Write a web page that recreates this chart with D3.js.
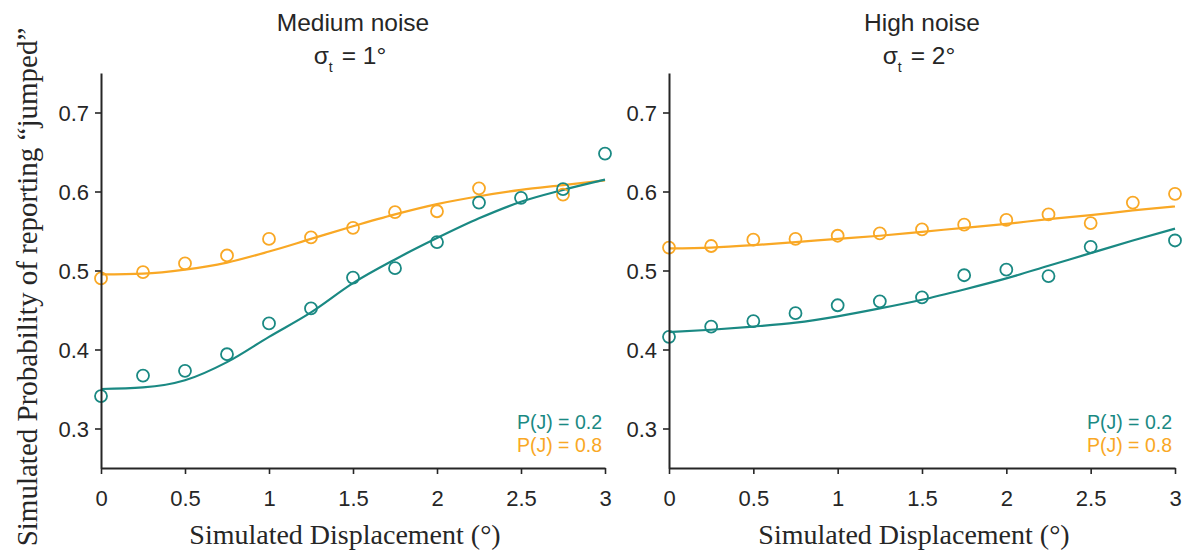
<!DOCTYPE html>
<html>
<head>
<meta charset="utf-8">
<script src="https://cdn.jsdelivr.net/npm/d3@7/dist/d3.min.js"></script>
<style>
  html, body { margin: 0; padding: 0; background: #fff; }
  svg { display: block; }
  text { font-family: "Liberation Sans", Arial, sans-serif; fill: #262626; }
  .serif { font-family: "Liberation Serif", "Times New Roman", serif; }
</style>
</head>
<body>
<svg id="chart" width="1193" height="554"></svg>
<script>
// Simulated displacement levels (deg)
const displacement = [0, 0.25, 0.5, 0.75, 1, 1.25, 1.5, 1.75, 2, 2.25, 2.5, 2.75, 3];
const xTicks = [0, 0.5, 1, 1.5, 2, 2.5, 3];
const yTicks = [0.3, 0.4, 0.5, 0.6, 0.7];

// Medium noise (sigma_t = 1 deg): simulated proportions and model fits
const medLowPJ   = [0.341, 0.367, 0.373, 0.394, 0.433, 0.452, 0.491, 0.503, 0.536, 0.586, 0.592, 0.603, 0.648];
const medHighPJ  = [0.490, 0.498, 0.509, 0.519, 0.540, 0.542, 0.554, 0.574, 0.575, 0.604, null, 0.596, null];
const medLowFit  = [0.350, 0.352, 0.361, 0.384, 0.416, 0.447, 0.484, 0.514, 0.541, 0.566, 0.587, 0.602, 0.615];
const medHighFit = [0.495, 0.496, 0.501, 0.510, 0.524, 0.540, 0.556, 0.571, 0.584, 0.594, 0.602, 0.608, 0.614];

// High noise (sigma_t = 2 deg)
const highLowPJ   = [0.416, 0.429, 0.436, 0.446, 0.456, 0.461, 0.466, 0.494, 0.501, 0.493, 0.530, null, 0.538];
const highHighPJ  = [0.529, 0.531, 0.539, 0.540, 0.544, 0.547, 0.552, 0.558, 0.564, 0.571, 0.560, 0.586, 0.597];
const highLowFit  = [0.422, 0.425, 0.429, 0.434, 0.442, 0.452, 0.463, 0.476, 0.490, 0.506, 0.522, 0.538, 0.553];
const highHighFit = [0.528, 0.529, 0.532, 0.536, 0.540, 0.544, 0.549, 0.554, 0.559, 0.565, 0.570, 0.576, 0.581];

const legendLabels = ["P(J) = 0.2", "P(J) = 0.8"];
const colors = ["#1a8983", "#f9a825"];

const panels = [
  { title: "Medium noise", sigma: "1°", x0: 101, x1: 605,
    points: [medHighPJ, medLowPJ], fits: [medHighFit, medLowFit] },
  { title: "High noise", sigma: "2°", x0: 669, x1: 1175,
    points: [highHighPJ, highLowPJ], fits: [highHighFit, highLowFit] }
];

const svg = d3.select("#chart");
const yTop = 73, yBottom = 468;
const y = d3.scaleLinear().domain([0.25, 0.75]).range([yBottom, yTop]);

panels.forEach(p => {
  const x = d3.scaleLinear().domain([0, 3]).range([p.x0, p.x1]);
  const g = svg.append("g");
  const cx = (p.x0 + p.x1) / 2;

  // titles
  g.append("text").attr("x", cx).attr("y", 31).attr("text-anchor", "middle")
    .style("font-size", "24.5px").text(p.title);
  const t2 = g.append("text").attr("x", cx - 3).attr("y", 64).attr("text-anchor", "middle")
    .style("font-size", "24.5px");
  t2.append("tspan").text("σ");
  t2.append("tspan").attr("dy", 8).style("font-size", "14px").text("t");
  t2.append("tspan").attr("dy", -8).attr("dx", 9).text("= " + p.sigma);

  // fitted curves
  const line = d3.line()
    .x((d, i) => x(displacement[i]))
    .y(d => y(d))
    .curve(d3.curveMonotoneX);
  [0, 1].forEach(k => {
    const col = k === 0 ? colors[1] : colors[0];
    g.append("path").datum(p.fits[k])
      .attr("d", line).attr("fill", "none")
      .attr("stroke", col).attr("stroke-width", 2.2);
  });

  // simulated proportions
  [0, 1].forEach(k => {
    const col = k === 0 ? colors[1] : colors[0];
    g.append("g").selectAll("circle")
      .data(p.points[k].map((v, i) => ({ x: displacement[i], v })).filter(d => d.v !== null))
      .join("circle")
      .attr("cx", d => x(d.x)).attr("cy", d => y(d.v)).attr("r", 6)
      .attr("fill", "none").attr("stroke", col).attr("stroke-width", 1.8);
  });

  // axes
  const xAxis = d3.axisBottom(x).tickValues(xTicks).tickSize(6).tickSizeOuter(0)
    .tickFormat(d3.format("~g"));
  const gx = g.append("g").attr("transform", `translate(0,${yBottom})`).call(xAxis);
  gx.selectAll("text").attr("y", 38).attr("dy", 0).style("font-size", "22px").style("fill", "#262626");

  const yAxis = d3.axisLeft(y).tickValues(yTicks).tickSize(6).tickSizeOuter(0)
    .tickFormat(d3.format(".1f"));
  const gy = g.append("g").attr("transform", `translate(${p.x0},0)`).call(yAxis);
  gy.selectAll("text").attr("x", -12).attr("dy", "0.36em").style("font-size", "22px").style("fill", "#262626");

  [gx, gy].forEach(a => {
    a.select(".domain").attr("stroke", "#262626").attr("stroke-width", 2);
    a.selectAll(".tick line").attr("stroke", "#262626").attr("stroke-width", 1.6);
  });

  // x axis title
  g.append("text").attr("class", "serif").attr("x", cx - 8).attr("y", 544)
    .attr("text-anchor", "middle").style("font-size", "28px")
    .text("Simulated Displacement (°)");

  // legend
  legendLabels.forEach((lab, i) => {
    g.append("text").attr("x", p.x1 - 3).attr("y", 429 + i * 23)
      .attr("text-anchor", "end").style("font-size", "19.5px")
      .style("fill", colors[i]).text(lab);
  });
});

// shared y axis title
svg.append("text").attr("class", "serif")
  .attr("transform", "translate(37,287) rotate(-90)")
  .attr("text-anchor", "middle").style("font-size", "29px")
  .text("Simulated Probability of reporting “jumped”");
</script>
</body>
</html>
